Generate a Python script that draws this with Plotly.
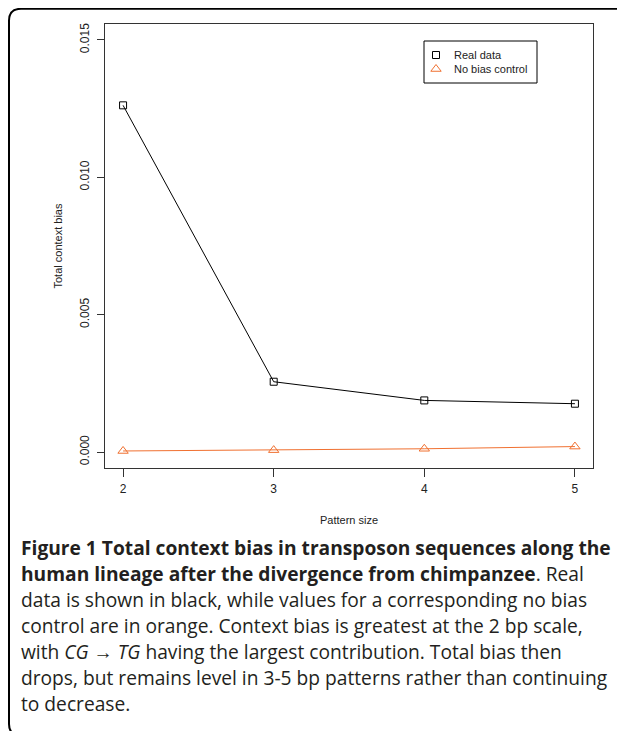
import plotly.graph_objects as go

# ---- data ----
pattern_size = [2, 3, 4, 5]
real_data = [0.01262, 0.00256, 0.00188, 0.00176]
no_bias_control = [0.00004, 0.00007, 0.00012, 0.00020]
x_ticks = [2, 3, 4, 5]
y_ticks = [0.000, 0.005, 0.010, 0.015]
y_tick_labels = ["0.000", "0.005", "0.010", "0.015"]
legend_labels = ["Real data", "No bias control"]

ORANGE = "#F07030"
OFF = 8                      # page body margin
W, H = 625 - OFF, 731 - OFF  # figure size
# plot area in screen pixels
SL, SR, ST, SB = 105, 593, 24, 468
L, R, T, B = SL - OFF, SR - OFF, ST - OFF, SB - OFF

def px(x):  # screen x -> paper
    return (x - SL) / (SR - SL)

def py(y):  # screen y -> paper
    return (SB - y) / (SB - ST)

fig = go.Figure()

fig.add_trace(go.Scatter(
    x=pattern_size, y=real_data, mode="lines+markers", name=legend_labels[0],
    line=dict(color="black", width=1),
    marker=dict(symbol="square-open", size=7, color="black", line=dict(width=1)),
    showlegend=False, cliponaxis=False))
fig.add_trace(go.Scatter(
    x=pattern_size, y=no_bias_control, mode="lines+markers", name=legend_labels[1],
    line=dict(color=ORANGE, width=1),
    marker=dict(symbol="triangle-up-open", size=9, color=ORANGE, line=dict(width=1)),
    showlegend=False, cliponaxis=False))

# legend keys drawn on an overlay axis measured in screen pixels
leg_x, leg_y0, leg_dy = 436, 55, 14
fig.add_trace(go.Scatter(
    x=[leg_x], y=[leg_y0], mode="markers", xaxis="x2", yaxis="y2",
    marker=dict(symbol="square-open", size=7, color="black", line=dict(width=1)),
    showlegend=False, hoverinfo="skip"))
fig.add_trace(go.Scatter(
    x=[leg_x], y=[leg_y0 + leg_dy], mode="markers", xaxis="x2", yaxis="y2",
    marker=dict(symbol="triangle-up-open", size=9, color=ORANGE, line=dict(width=1)),
    showlegend=False, hoverinfo="skip"))
for i, lab in enumerate(legend_labels):
    fig.add_annotation(text=lab, xref="x2", yref="y2", x=452, y=leg_y0 + leg_dy * i,
                       xanchor="left", yanchor="middle", showarrow=False,
                       font=dict(size=11, color="#222"))
fig.add_shape(type="rect", xref="x2", yref="y2", x0=424, x1=537, y0=41, y1=83,
              line=dict(color="black", width=1), fillcolor="rgba(0,0,0,0)")

axis_font = dict(family="Liberation Sans, Arial, sans-serif", size=12, color="#222")

fig.update_layout(
    width=W, height=H,
    margin=dict(l=L, r=W - R, t=T, b=H - B),
    paper_bgcolor="white", plot_bgcolor="white",
    font=axis_font,
    xaxis=dict(
        range=[1.88, 5.12], tickvals=x_ticks, ticktext=[str(v) for v in x_ticks],
        showgrid=False, zeroline=False, showline=True, mirror=True,
        linecolor="#333", linewidth=1, ticks="outside", ticklen=8,
        tickcolor="#333", tickfont=dict(size=12), ticklabelstandoff=2,
        title=dict(text="Pattern size", font=dict(size=11), standoff=20)),
    yaxis=dict(
        range=[-0.00058, 0.01558], tickvals=y_ticks, ticktext=y_tick_labels,
        showgrid=False, zeroline=False, showline=True, mirror=True,
        linecolor="#333", linewidth=1, ticks="outside", ticklen=7,
        tickcolor="#333", tickangle=-90, tickfont=dict(size=12),
        ticklabelstandoff=3,
        title=dict(text="Total context bias", font=dict(size=11), standoff=13)),
    xaxis2=dict(overlaying="x", range=[SL, SR], visible=False, fixedrange=True),
    yaxis2=dict(overlaying="y", range=[SB, ST], visible=False, fixedrange=True),
    showlegend=False,
)

# rounded outer frame of the figure panel
x0, y0, rr = 9, 8.8, 12
path = (f"M {px(640)},{py(y0)} L {px(x0 + rr)},{py(y0)} "
        f"Q {px(x0)},{py(y0)} {px(x0)},{py(y0 + rr)} "
        f"L {px(x0)},{py(724)} Q {px(x0)},{py(733)} {px(x0 + 8)},{py(736)}")
fig.add_shape(type="path", path=path, xref="paper", yref="paper",
              line=dict(color="black", width=2), layer="above")

# caption
cap_font = "Open Sans, Noto Sans, sans-serif"
cap_size = 19.2
lines = [
    "<b>Figure 1 Total context bias in transposon sequences along the</b>",
    "<b>human lineage after the divergence from chimpanzee</b>. Real",
    "data is shown in black, while values for a corresponding no bias",
    "control are in orange. Context bias is greatest at the 2 bp scale,",
    "with <i>CG</i> \u2192 <i>TG</i> having the largest contribution. Total bias then",
    "drops, but remains level in 3-5 bp patterns rather than continuing",
    "to decrease.",
]
first_y = 547
for i, t in enumerate(lines):
    fig.add_annotation(
        text=t, xref="paper", yref="paper", x=px(19), y=py(first_y + 26 * i),
        xanchor="left", yanchor="middle", showarrow=False,
        font=dict(family=cap_font, size=cap_size, color="#231F20"))

fig.write_html("out.html")
